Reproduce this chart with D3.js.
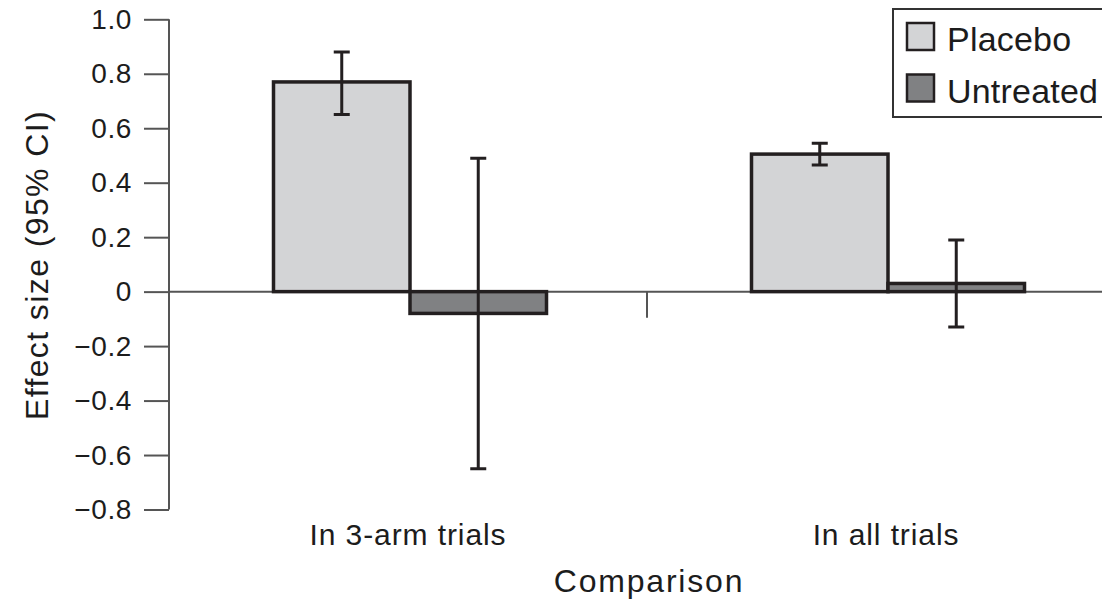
<!DOCTYPE html>
<html>
<head>
<meta charset="utf-8">
<script src="https://cdn.jsdelivr.net/npm/d3@7/dist/d3.min.js"></script>
<style>
  html, body { margin: 0; padding: 0; background: #fff; }
  svg { display: block; font-family: "Liberation Sans", Arial, Helvetica, sans-serif; }
</style>
</head>
<body>
<svg id="chart" width="1102" height="601"></svg>
<script>
// Comparison groups and series
const categories = ["In 3-arm trials", "In all trials"];
const series = ["Placebo", "Untreated"];

// Effect sizes with 95% confidence limits, one entry per category
const placeboEffect = [0.77, 0.505];
const placeboLower  = [0.65, 0.465];
const placeboUpper  = [0.88, 0.545];

const untreatedEffect = [-0.08, 0.03];
const untreatedLower  = [-0.65, -0.13];
const untreatedUpper  = [0.49, 0.19];

const yTicks = [1.0, 0.8, 0.6, 0.4, 0.2, 0, -0.2, -0.4, -0.6, -0.8];
const yTitle = "Effect size (95% CI)";
const xTitle = "Comparison";

const fills = { Placebo: "#d3d4d6", Untreated: "#808183" };
const ink = "#231f20";
const textInk = "#1c1c1c";
const axisGrey = "#555";

const rows = [];
categories.forEach((c, i) => {
  rows.push({ cat: c, s: "Placebo", v: placeboEffect[i], lo: placeboLower[i], hi: placeboUpper[i] });
  rows.push({ cat: c, s: "Untreated", v: untreatedEffect[i], lo: untreatedLower[i], hi: untreatedUpper[i] });
});

const svg = d3.select("#chart");

const y = d3.scaleLinear().domain([-0.8, 1.0]).range([509.5, 19.3]);
const x0 = d3.scaleBand().domain(categories).range([171, 1127]).padding(0);
const x1 = d3.scaleBand().domain(series).range([-136.5, 136.5]).padding(0);
const axisX = 169;
const fmt = v => v === 0 ? "0" : d3.format(".1f")(v).replace("-", "\u2212");

// Y axis
const yAxis = d3.axisLeft(y).tickValues(yTicks).tickSize(25).tickPadding(12).tickFormat(fmt);
const gy = svg.append("g").attr("transform", `translate(${axisX},0)`).call(yAxis);
gy.select(".domain").attr("d", `M0,${y(-0.8)}V${y(1.0)}`).attr("stroke", axisGrey).attr("stroke-width", 2);
gy.selectAll(".tick line").attr("stroke", axisGrey).attr("stroke-width", 2);
gy.selectAll(".tick text")
  .attr("fill", textInk)
  .style("font-size", "28px")
  .style("letter-spacing", "0.6px")
  .attr("font-family", null);

// Zero baseline with category dividers
svg.append("line")
  .attr("x1", axisX).attr("x2", 1102)
  .attr("y1", y(0)).attr("y2", y(0))
  .attr("stroke", axisGrey).attr("stroke-width", 2);
svg.selectAll("line.divider")
  .data(categories.slice(1))
  .join("line")
  .attr("class", "divider")
  .attr("x1", d => x0(d) - 2).attr("x2", d => x0(d) - 2)
  .attr("y1", y(0)).attr("y2", y(0) + 26)
  .attr("stroke", axisGrey).attr("stroke-width", 2);

// Bars
const center = d => x0(d.cat) + x0.bandwidth() / 2 + x1(d.s);
svg.append("g").selectAll("rect")
  .data(rows)
  .join("rect")
  .attr("x", d => center(d))
  .attr("width", x1.bandwidth())
  .attr("y", d => y(Math.max(0, d.v)))
  .attr("height", d => Math.abs(y(d.v) - y(0)))
  .attr("fill", d => fills[d.s])
  .attr("stroke", ink)
  .attr("stroke-width", 3.5);

// Confidence-interval whiskers
const cap = 8;
const eb = svg.append("g").attr("stroke", ink).attr("stroke-width", 3).attr("fill", "none");
eb.selectAll("path")
  .data(rows)
  .join("path")
  .attr("d", d => {
    const cx = center(d) + x1.bandwidth() / 2;
    return `M${cx},${y(d.hi)}V${y(d.lo)}` +
           `M${cx - cap},${y(d.hi)}H${cx + cap}` +
           `M${cx - cap},${y(d.lo)}H${cx + cap}`;
  });

// Category labels
svg.selectAll("text.cat")
  .data(categories)
  .join("text")
  .attr("class", "cat")
  .attr("x", d => x0(d) + x0.bandwidth() / 2 - 2)
  .attr("y", 545)
  .attr("text-anchor", "middle")
  .attr("fill", textInk)
  .style("font-size", "30px")
  .style("letter-spacing", "0.9px")
  .text(d => d);

// Axis titles
svg.append("text")
  .attr("x", 649).attr("y", 592)
  .attr("text-anchor", "middle")
  .attr("fill", textInk)
  .style("font-size", "32px")
  .style("letter-spacing", "1.8px")
  .text(xTitle);

svg.append("text")
  .attr("transform", "translate(48,265) rotate(-90)")
  .attr("text-anchor", "middle")
  .attr("fill", textInk)
  .style("font-size", "32px")
  .style("letter-spacing", "1.4px")
  .text(yTitle);

// Legend
const legend = svg.append("g");
legend.append("rect")
  .attr("x", 893).attr("y", 9).attr("width", 240).attr("height", 108)
  .attr("fill", "#fff").attr("stroke", "#333").attr("stroke-width", 2);
const items = legend.selectAll("g.item")
  .data(series)
  .join("g")
  .attr("class", "item")
  .attr("transform", (d, i) => `translate(907,${23 + i * 51.5})`);
items.append("rect")
  .attr("width", 27).attr("height", 27)
  .attr("fill", d => fills[d])
  .attr("stroke", ink).attr("stroke-width", 2.5);
items.append("text")
  .attr("x", 40).attr("y", 28)
  .attr("fill", textInk)
  .style("font-size", "34px")
  .style("letter-spacing", "0.2px")
  .text(d => d);
</script>
</body>
</html>
